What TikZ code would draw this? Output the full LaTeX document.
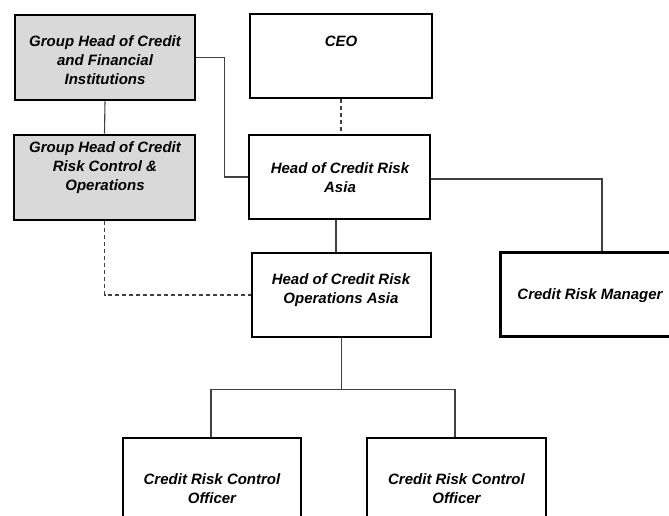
\documentclass[tikz,border=0pt]{standalone}
\usepackage{fontspec}
\setmainfont{Liberation Sans}
\usetikzlibrary{calc,positioning}
\tikzset{
  box/.style={draw,line width=2.6pt,minimum width=181pt,minimum height=84pt,inner sep=0pt},
  grau/.style={box,fill=black!15},
  txt/.style={align=center,inner sep=0pt,font=\bfseries\itshape\fontsize{15}{19}\selectfont},
  lin/.style={draw=black!75,line width=1.1pt},
  strich/.style={lin,dash pattern=on 4pt off 3pt},
}

\begin{document}
\begin{tikzpicture}[x=1pt,y=-1pt]
  \clip (0,0) rectangle (669,516);
  \fill[white] (0,0) rectangle (669,516);
  % boxes
  \node[grau,minimum width=180pt,minimum height=85pt] (gfi) at (105,57.5) {};
  \node[grau,minimum height=85pt] (grc) at (104.5,177.5) {};
  \node[box,minimum width=182pt] (ceo) at (341,56) {};
  \node[box] (hcra) at (339.5,177) {};
  \node[box,minimum width=179pt] (hcroa) at (341.5,295) {};
  \node[box,minimum width=180pt] (crm) at (590.7,294.5) {};
  \node[box,minimum width=178pt,minimum height=102pt] (crco1) at (212,489) {};
  \node[box,minimum width=179pt,minimum height=102pt] (crco2) at (456.5,489) {};
  % texts
  \node[txt] (gfi-t) at (105,60) {Group Head of Credit\\and Financial\\Institutions};
  \node[txt] (grc-t) at (105,168) {Group Head of Credit\\Risk Control \&\\Operations};
  \node[txt] (ceo-t) at (341,41) {CEO};
  \node[txt] (hcra-t) at (340,178) {Head of Credit Risk\\Asia};
  \node[txt] (hcroa-t) at (341,290) {Head of Credit Risk\\Operations Asia};
  \node[txt] (crm-t) at (590,296) {Credit Risk Manager};
  \node[txt] (crco1-t) at (212,489) {Credit Risk Control\\Officer};
  \node[txt] (crco2-t) at (456.5,489) {Credit Risk Control\\Officer};
  % connectors
  \draw[lin] (gfi.south) -- (grc.north);
  \draw[lin] (gfi.east) -- ++(28,0) |- (hcra.west);
  \draw[strich] (ceo.south) -- (ceo.south |- hcra.north);
  \draw[lin] ([xshift=-3.5pt]hcra.south) -- ([xshift=-3.5pt]hcra.south |- hcroa.north);
  \draw[lin] ([yshift=-2pt]hcra.east) -| ([xshift=11.3pt]crm.north);
  \draw[strich] (grc.south) |- (hcroa.west);
  \draw[lin] (hcroa.south) -- ++(0,51) coordinate (ast);
  \draw[lin] (ast) -| ([xshift=-1pt]crco1.north);
  \draw[lin] (ast) -| ([xshift=-1.5pt]crco2.north);
\end{tikzpicture}
\end{document}
